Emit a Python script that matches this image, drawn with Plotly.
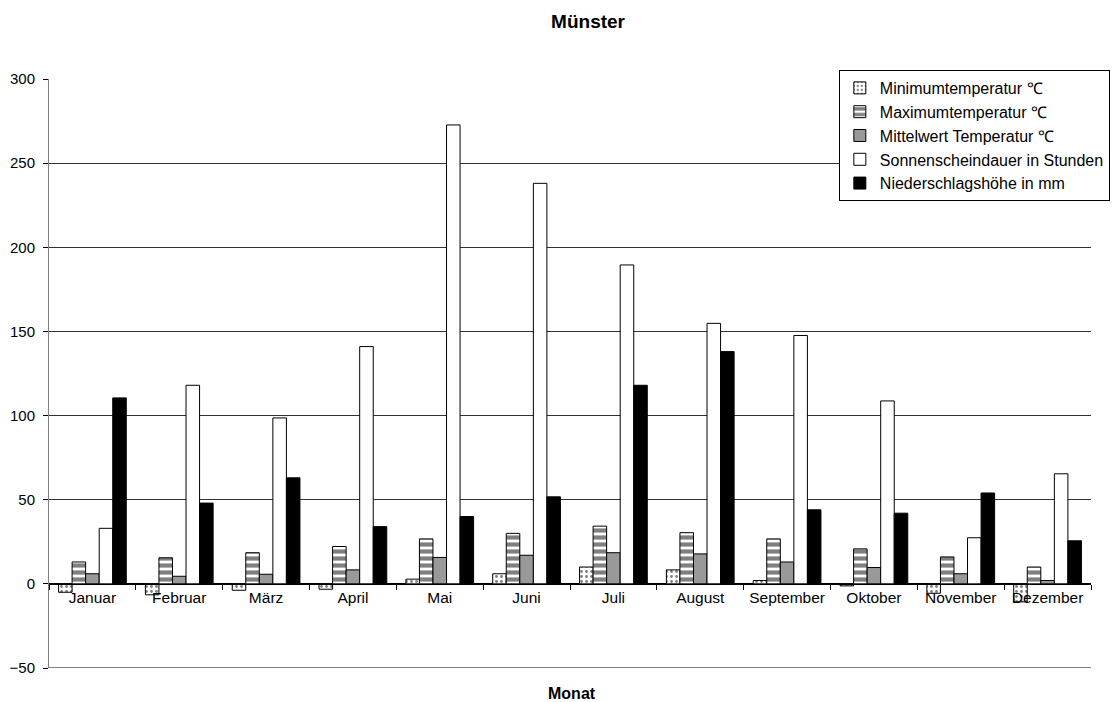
import plotly.graph_objects as go

# Monatliche Klimawerte für Münster
monate = ["Januar", "Februar", "März", "April", "Mai", "Juni",
          "Juli", "August", "September", "Oktober", "November", "Dezember"]

min_temp = [-5, -6.5, -3.8, -3.2, 2.8, 6, 10, 8.3, 2, -1.2, -5.6, -10.7]
max_temp = [13, 15.5, 18.5, 22.2, 26.7, 30, 34.3, 30.4, 26.7, 20.8, 16, 10]
mittel_temp = [6, 4.5, 5.7, 8.3, 15.7, 17, 18.5, 17.8, 13, 9.7, 6, 2]
sonne = [33, 118, 98.6, 141, 272.7, 238, 189.5, 154.8, 147.6, 108.7, 27.4, 65.4]
niederschlag = [110.5, 48, 63, 34, 40, 51.7, 118, 138, 44, 42, 54, 25.6]

y_ticks = [-50, 0, 50, 100, 150, 200, 250, 300]

FONT = "Liberation Sans, Arial, Helvetica, sans-serif"
outline = dict(color="black", width=1)

fig = go.Figure()
fig.add_trace(go.Bar(
    x=monate, y=min_temp, name="Minimumtemperatur ℃",
    marker=dict(color="white", line=outline,
                pattern=dict(shape=".", fgcolor="black", bgcolor="white",
                             size=5, solidity=0.25)),
))
fig.add_trace(go.Bar(
    x=monate, y=max_temp, name="Maximumtemperatur ℃",
    marker=dict(color="white", line=outline,
                pattern=dict(shape="-", fgcolor="black", bgcolor="white",
                             size=7, solidity=0.6)),
))
fig.add_trace(go.Bar(
    x=monate, y=mittel_temp, name="Mittelwert Temperatur ℃",
    marker=dict(color="#999999", line=outline),
))
fig.add_trace(go.Bar(
    x=monate, y=sonne, name="Sonnenscheindauer in Stunden",
    marker=dict(color="white", line=outline),
))
fig.add_trace(go.Bar(
    x=monate, y=niederschlag, name="Niederschlagshöhe in mm",
    marker=dict(color="black", line=outline),
))

y_min, y_max = -50, 300

fig.update_layout(
    width=1118, height=702,
    margin=dict(l=49, r=27, t=79, b=34, autoexpand=False),
    paper_bgcolor="white", plot_bgcolor="white",
    font=dict(family=FONT, size=15, color="black"),
    barmode="group", bargap=0.22, bargroupgap=0,
    showlegend=True,
    title=dict(text="Münster", x=0.526, xanchor="center", y=0.97,
               yanchor="middle",
               font=dict(family=FONT, size=19, weight="bold")),
    legend=dict(
        x=0.758, y=1.0153, xanchor="left", yanchor="top",
        bgcolor="white", bordercolor="black", borderwidth=1,
        font=dict(family=FONT, size=16),
        traceorder="normal",
    ),
    xaxis=dict(
        type="category", automargin=False,
        anchor="free", position=(0 - y_min) / (y_max - y_min),
        showline=True, linecolor="black", linewidth=1,
        ticks="outside", ticklen=5, tickcolor="black", tickson="boundaries",
        tickangle=0,
        showgrid=False,
        tickfont=dict(family=FONT, size=15.5),
    ),
    yaxis=dict(
        range=[y_min, y_max], tickvals=y_ticks, automargin=False,
        showline=True, linecolor="#808080", linewidth=1,
        ticks="outside", ticklen=5, tickcolor="black",
        ticklabelstandoff=5,
        showgrid=True, gridcolor="#333333", gridwidth=1,
        zeroline=True, zerolinecolor="black", zerolinewidth=1,
        tickfont=dict(family=FONT, size=15),
    ),
    shapes=[dict(
        type="line", xref="paper", yref="y",
        x0=0, x1=1, y0=y_min, y1=y_min,
        line=dict(color="black", width=1), layer="below",
    )],
    annotations=[dict(
        text="<b>Monat</b>", xref="paper", yref="paper",
        x=0.502, y=-0.043, xanchor="center", yanchor="middle",
        showarrow=False, font=dict(family=FONT, size=16),
    )],
)

fig.write_html("out.html")
